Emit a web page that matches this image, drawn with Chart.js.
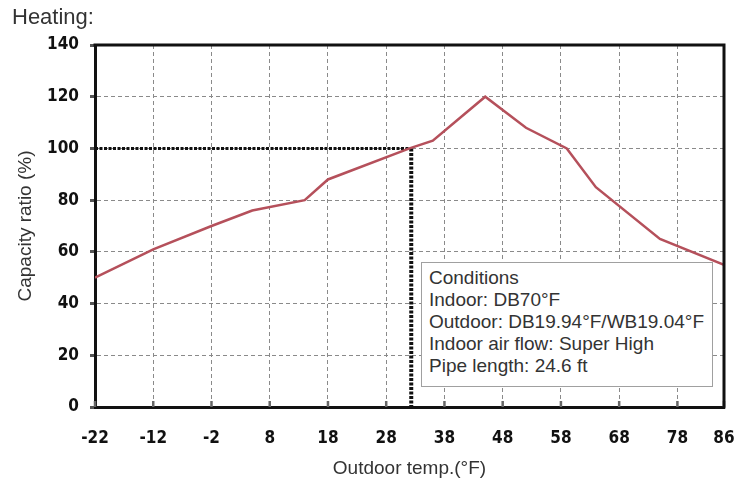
<!DOCTYPE html>
<html><head><meta charset="utf-8">
<script src="https://cdn.jsdelivr.net/npm/chart.js@4/dist/chart.umd.min.js"></script>
<style>
html,body{margin:0;padding:0;background:#fff;}
#wrap{position:relative;width:751px;height:484px;overflow:hidden;}
#title{position:absolute;left:12px;top:6px;font:22px 'Liberation Sans',Arial,sans-serif;line-height:22px;color:#333;white-space:nowrap;}
#cond{position:absolute;left:421px;top:262px;width:292px;height:125px;box-sizing:border-box;border:1px solid #a0a0a0;background:#fff;padding:4px 0 0 7px;font:19px 'Liberation Sans',Arial,sans-serif;line-height:22px;color:#333;white-space:nowrap;}
canvas{position:absolute;left:0;top:0;}
</style></head>
<body>
<div id="wrap">
<canvas id="c" width="751" height="484"></canvas>
<div id="title">Heating:</div>
<div id="cond">Conditions<br>Indoor: DB70°F<br>Outdoor: DB19.94°F/WB19.04°F<br>Indoor air flow: Super High<br>Pipe length: 24.6 ft</div>
</div>
<script>
const xTicks = [-22, -12, -2, 8, 18, 28, 38, 48, 58, 68, 78, 86];
const yTicks = [0, 20, 40, 60, 80, 100, 120, 140];
const temps = [-22, -12, -2, 5, 14, 18, 32, 36, 45, 52, 59, 64, 75, 86];
const capacity = [50, 61, 70, 76, 80, 88, 100, 103, 120, 108, 100, 85, 65, 55];
const refLineX = [-22, 32.3];
const refLineY = [100, 100];
const refDropX = [32.3, 32.3];
const refDropY = [100, 0];

const pts = (xs, ys) => xs.map((x, i) => ({x: x, y: ys[i]}));

const frame = {
  id: 'frame',
  afterDatasetsDraw(chart) {
    const {ctx, chartArea: a, scales} = chart;
    ctx.save();
    ctx.strokeStyle = '#666';
    ctx.lineWidth = 2.5;
    xTicks.forEach(v => {
      const px = scales.x.getPixelForValue(v);
      ctx.beginPath();
      ctx.moveTo(px, a.bottom);
      ctx.lineTo(px, a.bottom - 6);
      ctx.stroke();
    });
    ctx.strokeStyle = '#111';
    ctx.lineWidth = 3;
    ctx.beginPath();
    ctx.moveTo(a.left - 1.5, a.top);
    ctx.lineTo(a.right, a.top);
    ctx.lineTo(a.right, a.bottom + 1.5);
    ctx.stroke();
    ctx.restore();
  }
};

const tickFont = {family: "'DejaVu Sans Condensed','DejaVu Sans',sans-serif", size: 17, weight: 'bold'};
const titleFont = {family: "'Liberation Sans',Arial,sans-serif", size: 19};

new Chart(document.getElementById('c'), {
  type: 'scatter',
  data: {
    datasets: [
      {data: pts(temps, capacity), showLine: true, borderColor: '#b5505b', borderWidth: 2.5, pointRadius: 0, tension: 0, order: 1},
      {data: pts(refLineX, refLineY), showLine: true, borderColor: '#111', borderWidth: 3, borderDash: [3, 1.5], pointRadius: 0, order: 2},
      {data: pts(refDropX, refDropY), showLine: true, borderColor: '#111', borderWidth: 4, borderDash: [3, 1.5], pointRadius: 0, order: 2}
    ]
  },
  options: {
    responsive: false,
    animation: false,
    layout: {padding: {left: 0, right: 27, top: 45, bottom: 0}},
    plugins: {legend: {display: false}, tooltip: {enabled: false}},
    scales: {
      x: {
        type: 'linear', min: -22, max: 86,
        afterBuildTicks: s => { s.ticks = xTicks.map(v => ({value: v})); },
        afterFit: s => { s.height = 77; s.paddingLeft = 0; s.paddingRight = 0; },
        ticks: {font: tickFont, color: '#111', padding: 21, maxRotation: 0, autoSkip: false},
        grid: {color: '#8a8a8a', lineWidth: 1, drawTicks: false},
        border: {color: '#111', width: 3, dash: [4, 3]},
        title: {display: true, text: 'Outdoor temp.(°F)', font: titleFont, color: '#333', padding: {top: 0, bottom: 4}}
      },
      y: {
        min: 0, max: 140,
        afterBuildTicks: s => { s.ticks = yTicks.map(v => ({value: v})); },
        afterFit: s => { s.width = 95; s.paddingTop = 0; s.paddingBottom = 0; },
        ticks: {font: tickFont, color: '#111', padding: 11},
        grid: {color: '#8a8a8a', lineWidth: 1, drawTicks: true, tickLength: 5, tickColor: '#555', tickWidth: 3},
        border: {color: '#111', width: 3, dash: [4, 3]},
        title: {display: true, text: 'Capacity ratio (%)', font: titleFont, color: '#333', padding: {top: 14, bottom: 0}}
      }
    }
  },
  plugins: [frame]
});
</script>
</body></html>
